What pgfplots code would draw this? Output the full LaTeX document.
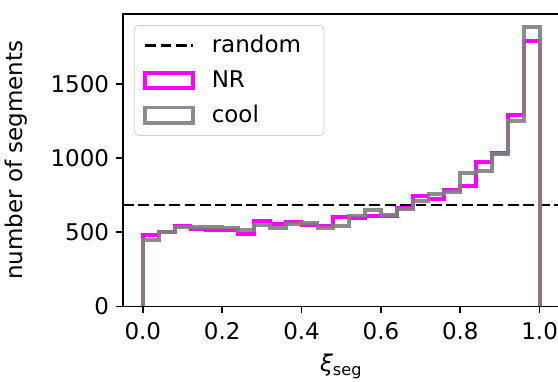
\documentclass[border=0pt]{standalone}
\usepackage{pgfplots}
\pgfplotsset{compat=1.18}
\usepackage{pgfplotstable}
\usepackage{fontspec}
\setmainfont{DejaVu Sans}

\pgfplotstableread{
x NR cool
0 0 0
0 481 450
0.04 500 504
0.08 542 533
0.12 524 537
0.16 515 537
0.20 515 532
0.24 486 517
0.28 575 548
0.32 555 531
0.36 569 553
0.40 548 560
0.44 542 531
0.48 605 544
0.52 598 613
0.56 609 652
0.60 612 616
0.64 665 656
0.68 744 710
0.72 726 755
0.76 785 773
0.80 814 899
0.84 976 915
0.88 1034 1028
0.92 1291 1253
0.96 1788 1882
1.00 1788 1882
1.00 0 0
}\hist

\definecolor{mplgray}{HTML}{808080}
\definecolor{mplmag}{HTML}{FF00FF}

\begin{document}
\begin{tikzpicture}
\begin{axis}[
  at={(0,0)}, anchor=south west,
  scale only axis,
  width=218.25pt, height=146.15pt,
  xmin=-0.05, xmax=1.05,
  ymin=0, ymax=1972,
  xtick={0,0.2,0.4,0.6,0.8,1.0},
  ytick={0,500,1000,1500},
  tick pos=left,
  tick align=outside,
  major tick length=3.4pt,
  every tick/.style={black, line width=0.8pt},
  axis line style={line width=0.8pt},
  font=\fontsize{11.5}{13.8}\selectfont,
  /pgf/number format/assume math mode=true,
  xticklabel style={yshift=-1pt, /pgf/number format/.cd, fixed, fixed zerofill, precision=1},
  yticklabel style={/pgf/number format/.cd, 1000 sep={}},
  every axis y label/.style={at={(axis description cs:-0.245,0.5)}, rotate=90, anchor=center},
  every axis x label/.style={at={(axis description cs:0.5,-0.205)}, anchor=center},
  ylabel={number of segments},
  xlabel={\textit{ξ}\textsubscript{seg}},
  legend cell align=left,
  legend style={at={(axis description cs:0.025,0.962)}, anchor=north west,
    draw=black!18, rounded corners=2pt, fill=white, fill opacity=0.8, text opacity=1,
    font=\fontsize{11.5}{13.8}\selectfont,
    inner xsep=4.5pt, inner ysep=3pt, row sep=3.3pt,
    nodes={inner sep=2pt},
    /tikz/every odd column/.append style={column sep=6.5pt}},
]
\addplot[black, line width=1.45pt, dash pattern=on 5.4pt off 2.3pt,
  legend image code/.code={\draw[sharp corners, black, line width=1.45pt, dash pattern=on 5.4pt off 2.3pt] (0pt,0pt) -- (23.8pt,0pt);}]
  coordinates {(-0.05,683.5) (1.05,683.5)};
\addlegendentry{random\hspace*{5pt}}
\addplot[const plot, draw=mplmag, line width=1.93pt, line join=miter,
  legend image code/.code={\draw[sharp corners, line join=miter, draw=mplmag, line width=1.93pt, fill=white, fill opacity=1] (0pt,-3.85pt) rectangle (23.8pt,3.85pt);}]
  table[x=x, y=NR] {\hist};
\addlegendentry{NR}
\addplot[const plot, draw=mplgray, draw opacity=0.9, line width=1.93pt, line join=miter,
  legend image code/.code={\draw[sharp corners, line join=miter, draw=mplgray, draw opacity=0.9, line width=1.93pt, fill=white, fill opacity=1] (0pt,-3.85pt) rectangle (23.8pt,3.85pt);}]
  table[x=x, y=cool] {\hist};
\addlegendentry{cool}
\end{axis}
\pgfresetboundingbox
\path[use as bounding box] (-61.5pt,-37.35pt) rectangle (217.5pt,153.15pt);
\end{tikzpicture}
\end{document}
